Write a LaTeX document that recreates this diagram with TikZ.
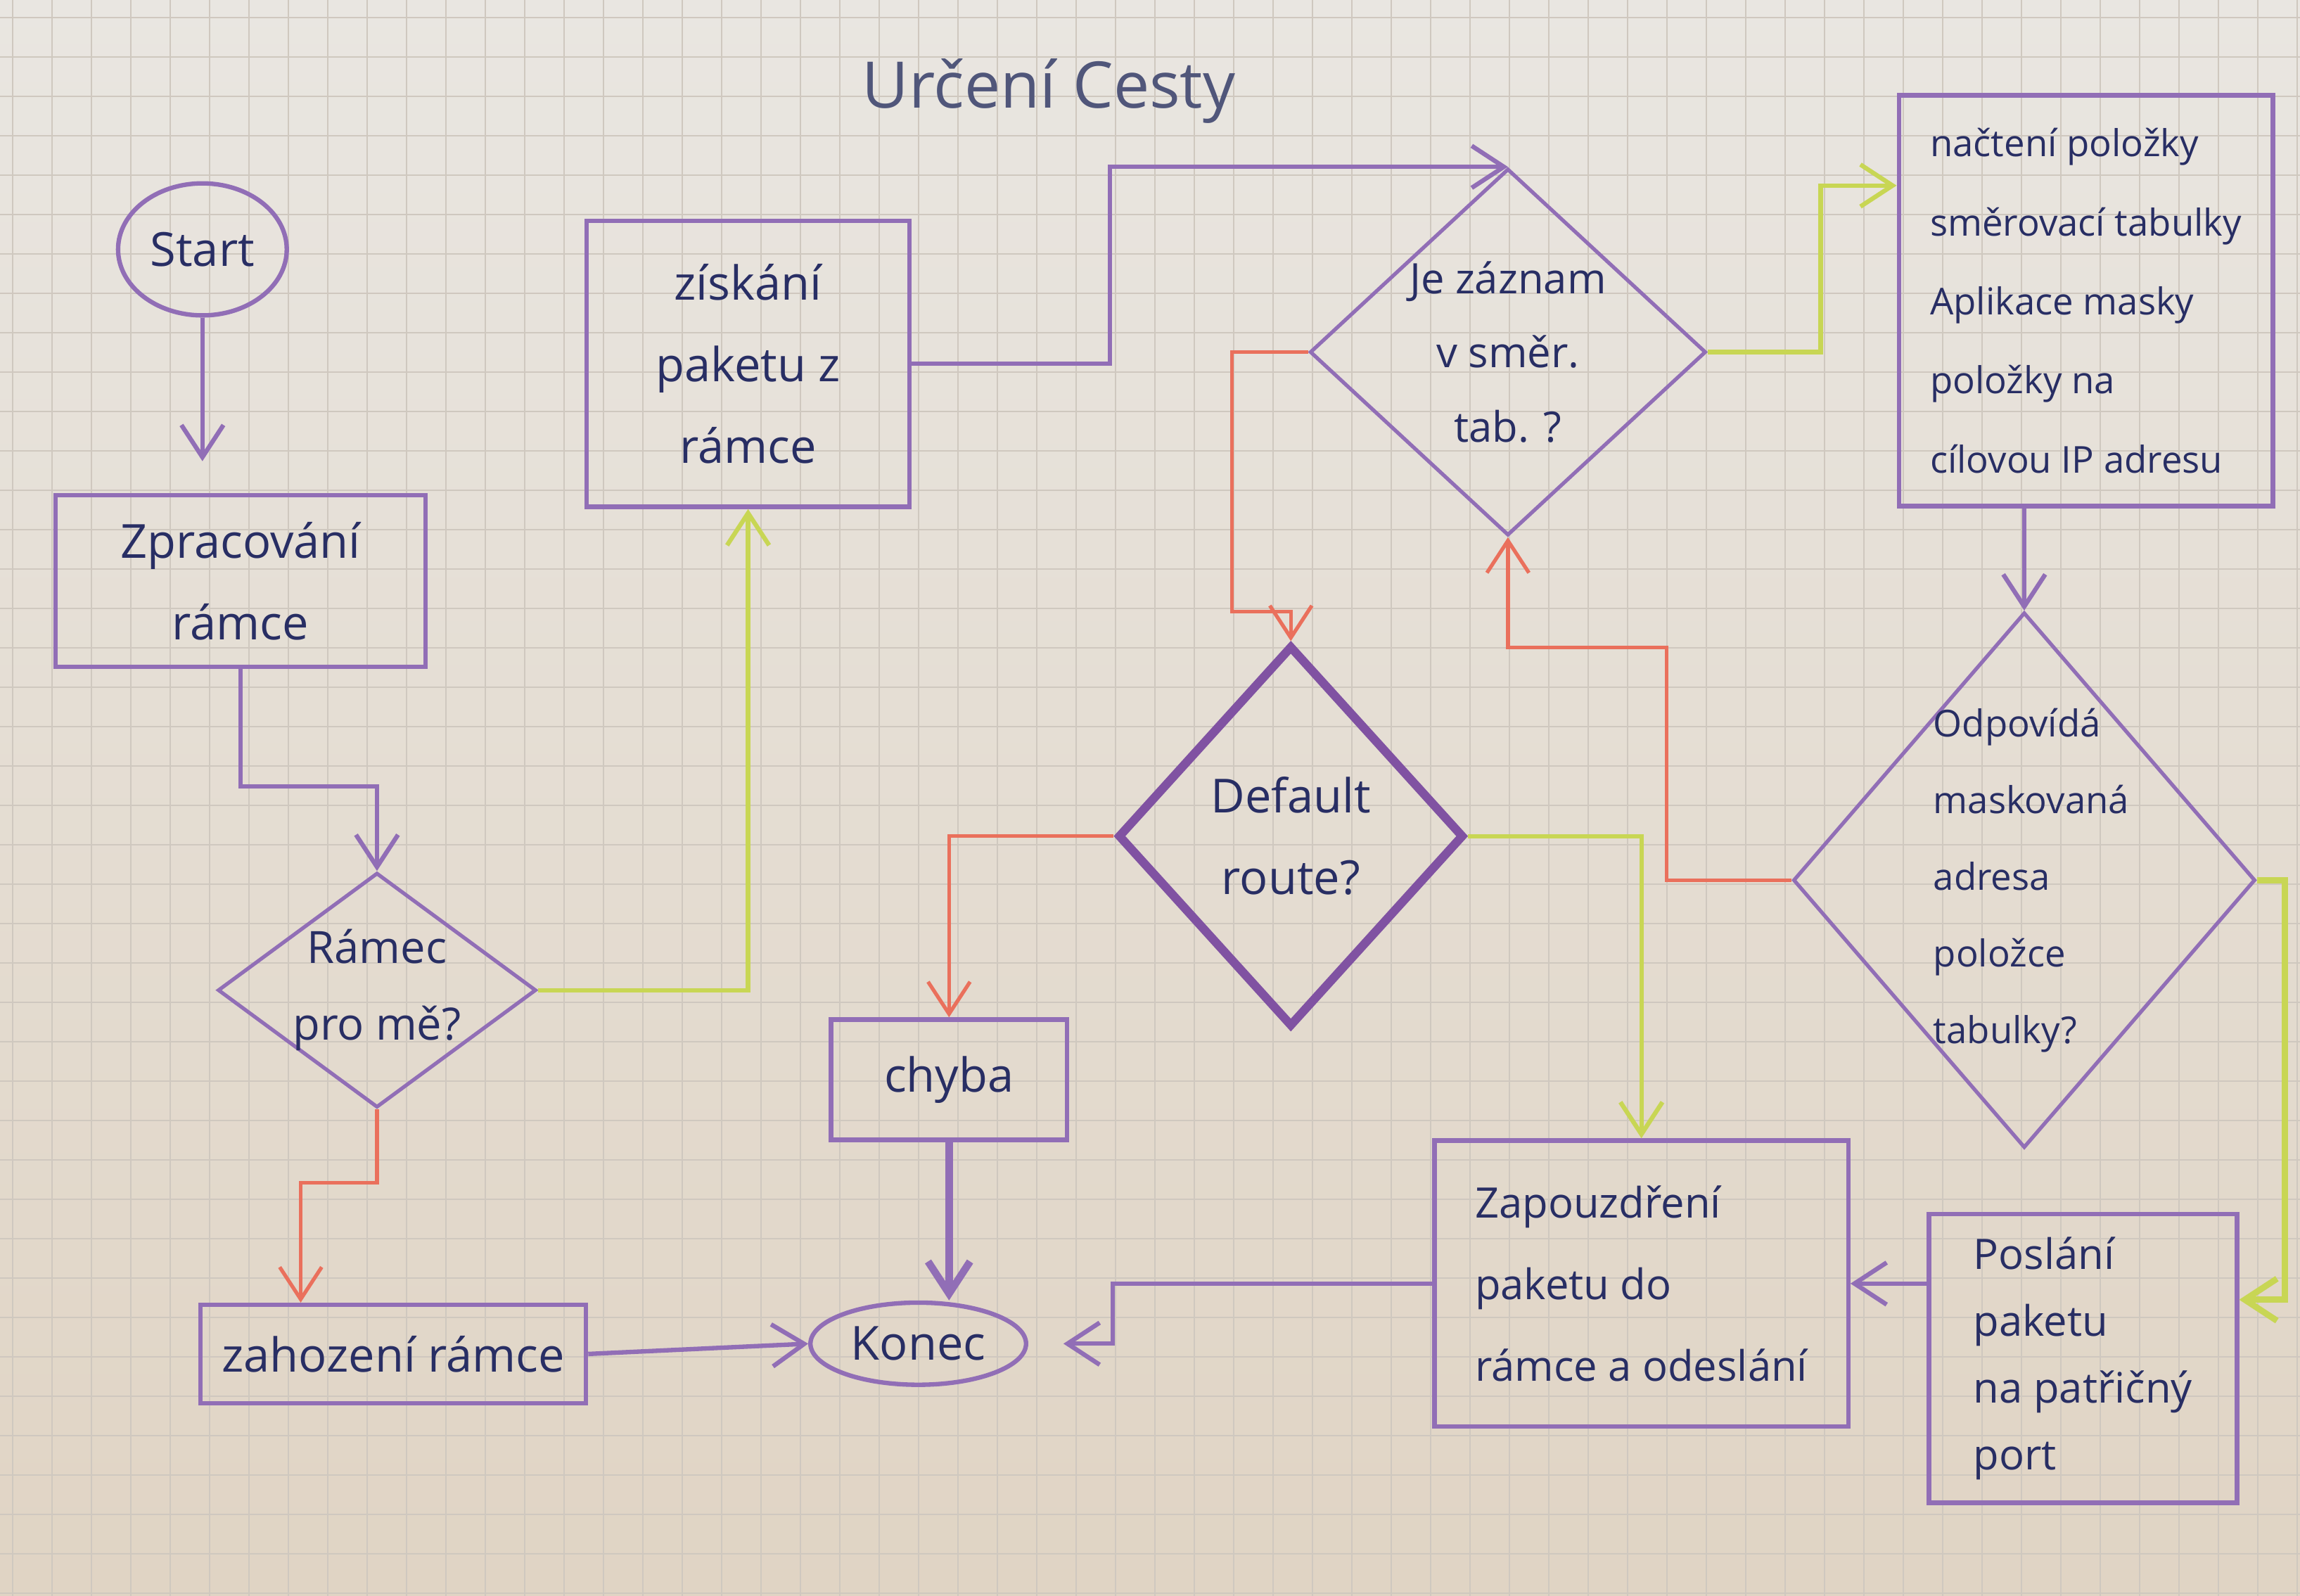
\documentclass[tikz,border=0pt]{standalone}
\usepackage{fontspec}
\setmainfont{Open Sans}
\usetikzlibrary{shapes.geometric,arrows.meta,calc}
\definecolor{paper}{RGB}{233,230,225}
\definecolor{paperb}{RGB}{224,212,196}
\definecolor{gridc}{RGB}{207,200,191}
\definecolor{pur}{RGB}{145,110,182}
\definecolor{dpur}{RGB}{128,82,162}
\definecolor{grn}{RGB}{200,214,84}
\definecolor{rd}{RGB}{234,112,92}
\definecolor{ink}{RGB}{40,46,100}
\definecolor{titlec}{RGB}{80,86,122}
\def\uu{0.020855cm}
\begin{document}
\begin{tikzpicture}[x=0.020855cm,y=-0.020855cm,
 sz/.style 2 args={minimum width=#1*\uu, minimum height=#2*\uu},
 box/.style={draw=pur, line width=1.8pt, rectangle, inner sep=0pt},
 ell/.style={draw=pur, line width=1.8pt, ellipse, inner sep=0pt},
 dia/.style={draw=pur, line width=1.5pt, diamond, inner sep=0pt},
 txt/.style={text=ink, align=center, font=\fontsize{19}{33}\selectfont},
 arr/.style={line width=1.8pt, -{Straight Barb[length=13pt,width=17pt]}},
 parr/.style={arr, draw=pur},
 garr/.style={arr, draw=grn},
 rarr/.style={arr, draw=rd, line width=1.5pt},
]
\useasboundingbox (0,0) rectangle (1568,1088);
\shade[top color=paper, bottom color=paperb] (0,0) rectangle (1568,1088);
\foreach \k in {0,...,58} {\draw[gridc,line width=0.45pt] ({8.75+\k*26.85},0) -- ({8.75+\k*26.85},1088);}
\foreach \k in {0,...,40} {\draw[gridc,line width=0.45pt] (0,{12+\k*26.85}) -- (1568,{12+\k*26.85});}

\node[txt, font=\fontsize{26}{30}\selectfont, text=titlec] (title) at (715,62) {Určení Cesty};

\node[ell, sz={115}{90}, txt] (start) at (138,170) {Start};
\node[box, sz={252}{117}, txt] (zpr) at (164,396) {Zpracování\\rámce};
\node[dia, sz={217}{160}, label={[txt, font=\fontsize{18}{31}\selectfont]center:{Rámec\\pro mě?}}] (drm) at (257,675) {};
\node[box, sz={263}{67}, txt] (zah) at (268,923) {zahození rámce};
\node[ell, sz={147}{56}, txt] (kon) at (626,916) {Konec};
\node[box, sz={161}{82}, txt] (chy) at (647,736) {chyba};
\node[box, sz={220}{195}, txt] (zis) at (510,248) {získání\\paketu z\\rámce};
\node[dia, sz={270}{250}, label={[txt, font=\fontsize{17}{30}\selectfont]center:{Je záznam\\v směr.\\tab. ?}}] (dj) at (1028,240) {};
\node[box, sz={255}{280}, txt, align=left, font=\fontsize{15}{32}\selectfont] (nac) at (1422,205) {načtení položky\\směrovací tabulky\\Aplikace masky\\položky na\\cílovou IP adresu};
\node[dia, sz={315}{365}, label={[txt, align=left, font=\fontsize{15}{31}\selectfont, xshift=0.1cm]center:{Odpovídá\\maskovaná\\adresa\\položce\\tabulky?}}] (dod) at (1380,600) {};
\node[dia, draw=dpur, line width=3.5pt, sz={236}{260}, label={[txt]center:{Default\\route?}}] (ddef) at (880,570) {};
\node[box, sz={282}{195}, txt, align=left, font=\fontsize{17}{33}\selectfont] (zap) at (1119,875) {Zapouzdření\\paketu do\\rámce a odeslání};
\node[box, sz={210}{197}, txt, align=left, font=\fontsize{17}{27}\selectfont] (pos) at (1420,926) {Poslání\\paketu\\na patřičný\\port};

\draw[parr, shorten >=0.45cm] (start.south) -- (start.south |- zpr.north);
\draw[parr] (zpr.south) -- ++(0,80) -| (drm.north);
\draw[garr] (drm.east) -| (zis.south);
\draw[rarr] (drm.south) -- ++(0,50) -| ($(zah.north)+(-63,0)$);
\draw[parr] (zah.east) -- (kon.west);
\draw[parr, line width=3pt] (chy.south) -- (chy.south |- kon.north);
\draw[parr] (zis.east) -- ++(135,0) |- (dj.north);
\draw[garr] (dj.east) -- ++(77,0) |- ($(nac.north west)+(0,63)$);
\draw[rarr] (dj.west) -| ($(ddef.north)+(-40,-20)$) -| (ddef.north);
\draw[parr] (nac.south -| dod.north) -- (dod.north);
\draw[rarr] (dod.west) -- ++(-85,0) |- ($(dj.south)+(0,75)$) -- (dj.south);
\draw[garr, line width=2.5pt] (dod.east) -| ($(pos.east)+(31,-40)$) -- ($(pos.east)+(0,-40)$);
\draw[garr] (ddef.east) -| (zap.north);
\draw[rarr] (ddef.west) -| (chy.north);
\draw[parr] (pos.west |- zap.east) -- (zap.east);
\draw[parr, shorten >=0.5cm] (zap.west) -- ++(-218,0) |- (kon.east);
\end{tikzpicture}
\end{document}
